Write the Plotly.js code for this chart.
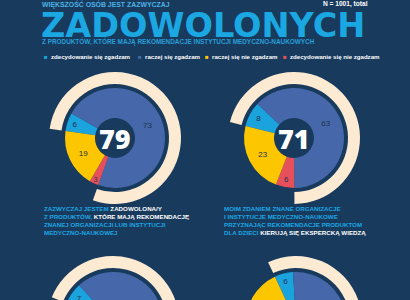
<!DOCTYPE html>
<html><head><meta charset="utf-8">
<script src="https://cdn.plot.ly/plotly-3.0.1.min.js"></script>
<style>html,body{margin:0;padding:0;background:#173a5d;overflow:hidden;}#chart{width:410px;height:400px;}</style>
</head><body><div id="chart"></div>
<script>
// legend order
const categories = ['zdecydowanie się zgadzam', 'raczej się zgadzam', 'raczej się nie zgadzam', 'zdecydowanie się nie zgadzam'];
const colors = ['#1aa3dd', '#4668aa', '#fcc700', '#e5505b'];
// values per chart, in legend order
const satisfied = [6, 73, 19, 3];      // "zazwyczaj jestem zadowolona/y"
const expertise = [8, 63, 23, 6];      // "kierują się ekspercką wiedzą"
const chart3 = [7, 62, 26, 5];
const chart4 = [6, 47, 39, 8];
const centerLabels = ['79', '71', '', ''];
const sliceOrder = [0, 1, 3, 2]; // clockwise drawing order

const W = 410, H = 400;
const bg = '#173a5d', cream = '#fcead3';
const series = [satisfied, expertise, chart3, chart4];
const centers = [[115, 138], [294, 138], [113, 322], [296, 322]];
const rotations = [278, 284, 292, 335];
const R = 50, RO = 66, RI = 54;

function dom(cx, cy, r) {
  return {x: [(cx - r) / W, (cx + r) / W], y: [(H - cy - r) / H, (H - cy + r) / H]};
}
const px = x => x / W, py = y => 1 - y / H;

const data = [];
series.forEach((vals, i) => {
  const [cx, cy] = centers[i];
  const v = sliceOrder.map(k => vals[k]);
  const agree = vals[0] + vals[1];
  const rest = vals[2] + vals[3];
  data.push({
    type: 'pie', values: [agree, rest], labels: ['a', 'b'], sort: false,
    direction: 'clockwise', rotation: rotations[i], hole: RI / RO,
    domain: dom(cx, cy, RO), marker: {colors: [cream, 'rgba(0,0,0,0)'], line: {width: 0}},
    textinfo: 'none', hoverinfo: 'skip', showlegend: false
  });
  data.push({
    type: 'pie', values: v, labels: sliceOrder.map(k => categories[k]), sort: false,
    direction: 'clockwise', rotation: rotations[i], hole: 0.4,
    domain: dom(cx, cy, R), marker: {colors: sliceOrder.map(k => colors[k]), line: {width: 0}},
    texttemplate: '%{value}', textposition: 'inside', insidetextorientation: 'horizontal',
    textfont: {color: '#1d3050', size: 8, family: 'Liberation Sans'},
    hoverinfo: 'label+value', showlegend: false
  });
});

const smallFont = {family: 'Liberation Sans', size: 6.2, weight: 700, color: '#1ea6e2'};
const ann = [
  {x: px(40), y: py(4), xanchor: 'left', yanchor: 'middle', text: 'WIĘKSZOŚĆ OSÓB JEST ZAZWYCZAJ',
   font: {family: 'Liberation Sans', size: 6.9, weight: 700, color: '#4db3e6'}},
  {x: px(370), y: py(4), xanchor: 'right', yanchor: 'middle', text: 'N = 1001, total',
   font: {family: 'Liberation Sans', size: 6.6, weight: 700, color: '#ffffff'}},
  {x: px(39), y: py(26), xanchor: 'left', yanchor: 'middle', text: 'ZADOWOLONYCH',
   font: {family: 'DejaVu Sans', size: 33.5, weight: 700, color: '#1ba7e1'}},
  {x: px(40), y: py(41.5), xanchor: 'left', yanchor: 'middle',
   text: 'Z PRODUKTÓW, KTÓRE MAJĄ REKOMENDACJE INSTYTUCJI MEDYCZNO-NAUKOWYCH',
   font: {family: 'Liberation Sans', size: 6.4, weight: 700, color: '#2a9fd8'}},
  {x: px(42), y: py(203), xanchor: 'left', yanchor: 'top', align: 'left',
   text: 'ZAZWYCZAJ JESTEM <span style="color:#ffffff">ZADOWOLONA/Y</span><br>Z PRODUKTÓW, <span style="color:#ffffff">KTÓRE MAJĄ REKOMENDACJĘ</span><br>ZNANEJ ORGANIZACJI LUB INSTYTUCJI<br>MEDYCZNO-NAUKOWEJ',
   font: smallFont},
  {x: px(222), y: py(203), xanchor: 'left', yanchor: 'top', align: 'left',
   text: 'MOIM ZDANIEM ZNANE ORGANIZACJE<br>I INSTYTUCJE MEDYCZNO-NAUKOWE<br>PRZYZNAJĄC REKOMENDACJE PRODUKTOM<br>DLA DZIECI <span style="color:#ffffff">KIERUJĄ SIĘ EKSPERCKĄ WIEDZĄ</span>',
   font: smallFont}
];
const legX = [42, 136, 203, 281];
categories.forEach((c, k) => {
  ann.push({x: px(legX[k]), y: py(57), xanchor: 'left', yanchor: 'middle',
    text: '<span style="color:' + colors[k] + '">■</span>  ' + c,
    font: {family: 'Liberation Sans', size: 6.1, weight: 700, color: '#ffffff'}});
});
centerLabels.forEach((t, i) => {
  if (!t) return;
  ann.push({x: px(centers[i][0]), y: py(centers[i][1]), xanchor: 'center', yanchor: 'middle', text: t,
    font: {family: 'Open Sans', size: 27, weight: 800, color: '#ffffff'}});
});
ann.forEach(a => { a.xref = 'paper'; a.yref = 'paper'; a.showarrow = false; });

Plotly.newPlot('chart', data, {
  width: W, height: H, margin: {l: 0, r: 0, t: 0, b: 0},
  paper_bgcolor: bg, plot_bgcolor: bg, showlegend: false, annotations: ann
}, {displayModeBar: false, staticPlot: true});
</script></body></html>
